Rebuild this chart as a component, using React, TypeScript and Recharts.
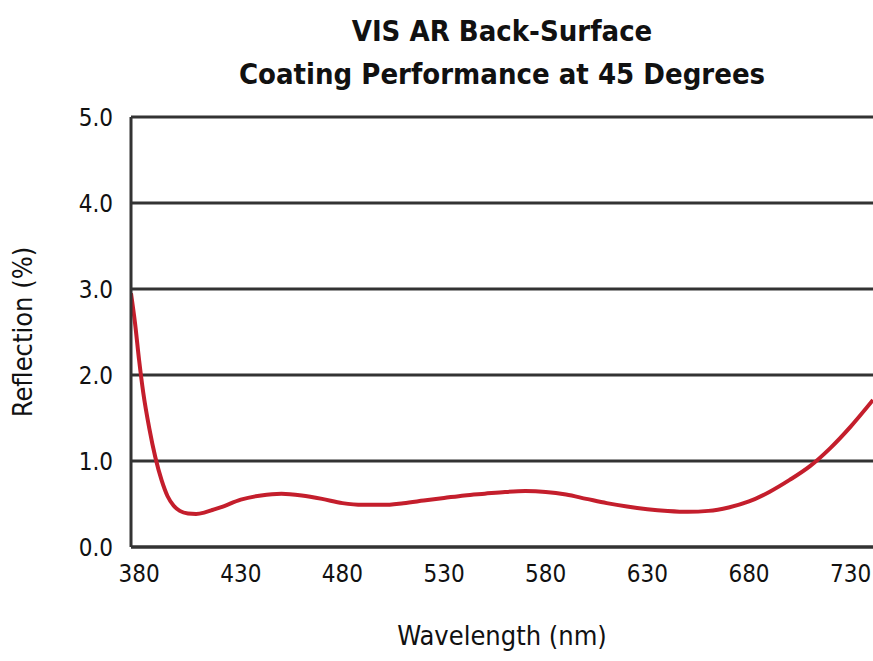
import React from 'react';
import { LineChart, Line, XAxis, YAxis, CartesianGrid, Label } from 'recharts';

const wavelengths = [
  376, 378, 380, 382, 385, 388, 391, 394, 397, 400, 404, 408, 412, 416, 420, 430, 440, 450, 460,
  470, 480, 490, 500, 510, 520, 530, 540, 550, 560, 570, 580, 590, 600, 610, 620, 630, 640, 650,
  660, 670, 680, 690, 700, 710, 720, 730, 741,
];
const reflection = [
  2.95, 2.6, 2.17, 1.8, 1.38, 1.04, 0.78, 0.59, 0.48, 0.42, 0.39, 0.385, 0.4, 0.43, 0.46, 0.55,
  0.6, 0.62, 0.6, 0.56, 0.51, 0.49, 0.49, 0.51, 0.54, 0.57, 0.6, 0.62, 0.64, 0.65, 0.64, 0.61,
  0.56, 0.51, 0.47, 0.44, 0.42, 0.41, 0.42, 0.46, 0.53, 0.64, 0.78, 0.94, 1.15, 1.4, 1.71,
];
const xTicks = [380, 430, 480, 530, 580, 630, 680, 730];
const yTicks = [0, 1, 2, 3, 4, 5];

const data = wavelengths.map((w, i) => ({ w, r: reflection[i] }));

const font = '"DejaVu Sans Condensed", "Liberation Sans Narrow", sans-serif';

export default function App() {
  return (
    <div style={{ position: 'absolute', left: 0, top: 0, width: 873, height: 661, background: '#fff' }}>
      <div
        style={{
          position: 'absolute',
          left: 131,
          width: 742,
          top: 10,
          textAlign: 'center',
          fontFamily: font,
          fontStretch: 'condensed',
          fontWeight: 'bold',
          fontSize: 29,
          lineHeight: '43px',
          color: '#111',
        }}
      >
        VIS AR Back-Surface
        <br />
        Coating Performance at 45 Degrees
      </div>
      <LineChart width={873} height={661} data={data} margin={{ top: 117, right: 0, bottom: 0, left: 0 }}>
        <CartesianGrid vertical={false} stroke="#333" strokeWidth={3} />
        <XAxis
          dataKey="w"
          type="number"
          domain={[376, 741]}
          ticks={xTicks}
          allowDataOverflow
          tickLine={false}
          axisLine={{ stroke: '#333', strokeWidth: 3 }}
          tickMargin={12}
          tick={{ fill: '#111', fontFamily: font, fontStretch: 'condensed', fontSize: 24 }}
          height={114}
        >
          <Label
            value="Wavelength (nm)"
            position="insideBottom"
            offset={16}
            style={{ fill: '#111', fontFamily: font, fontStretch: 'condensed', fontSize: 27 }}
          />
        </XAxis>
        <YAxis
          type="number"
          domain={[0, 5]}
          ticks={yTicks}
          tickFormatter={(v) => v.toFixed(1)}
          tickLine={false}
          axisLine={{ stroke: '#333', strokeWidth: 3 }}
          tickMargin={12}
          tick={{ fill: '#111', fontFamily: font, fontStretch: 'condensed', fontSize: 24 }}
          width={131}
        >
          <Label
            value="Reflection (%)"
            angle={-90}
            position="insideLeft"
            offset={22}
            style={{ fill: '#111', fontFamily: font, fontStretch: 'condensed', fontSize: 27, textAnchor: 'middle' }}
          />
        </YAxis>
        <Line
          type="monotone"
          dataKey="r"
          stroke="#c41e2c"
          strokeWidth={4}
          dot={false}
          isAnimationActive={false}
        />
      </LineChart>
    </div>
  );
}
